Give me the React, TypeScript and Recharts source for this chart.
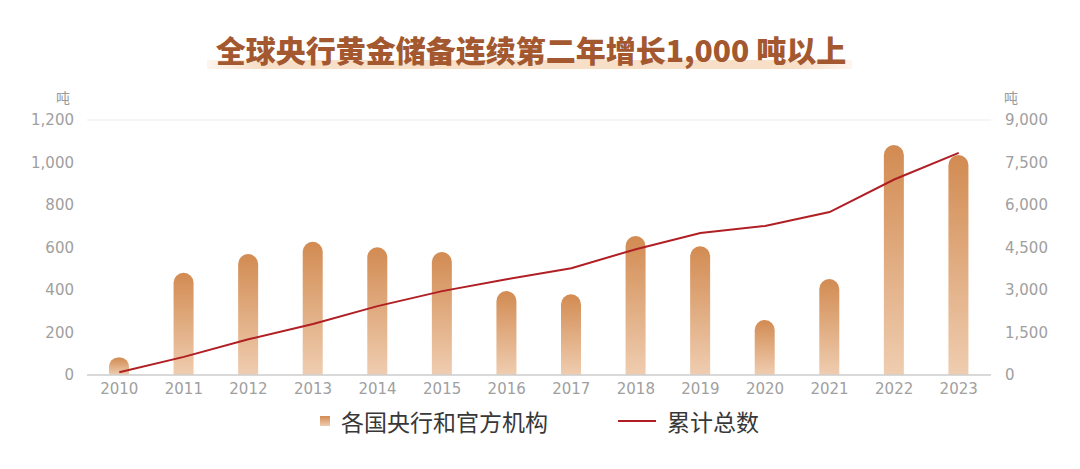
import React from "react";
import {
  ComposedChart,
  Bar,
  Line,
  XAxis,
  YAxis,
  CartesianGrid,
} from "recharts";

const years = ["2010", "2011", "2012", "2013", "2014", "2015", "2016", "2017", "2018", "2019", "2020", "2021", "2022", "2023"];
const annualBuying = [82, 481, 569, 627, 601, 579, 395, 380, 654, 606, 259, 452, 1082, 1035];
const cumulative = [100, 640, 1260, 1800, 2430, 2960, 3380, 3770, 4440, 5010, 5260, 5750, 6900, 7840];
const leftTicks = [0, 200, 400, 600, 800, 1000, 1200];
const rightTicks = [0, 1500, 3000, 4500, 6000, 7500, 9000];

const TITLE = "全球央行黄金储备连续第二年增长1,000 吨以上";
const BAR_NAME = "各国央行和官方机构";
const LINE_NAME = "累计总数";
const UNIT = "吨";

const data = years.map((y, i) => ({ year: y, annual: annualBuying[i], total: cumulative[i] }));

const fmt = (v: number) => v.toLocaleString("en-US");
const tickStyle = { fontSize: 15, fill: "#a0a0a0", fontFamily: "'DejaVu Sans', sans-serif" };
const cjk = "'Noto Sans CJK SC', 'Noto Sans', sans-serif";

export default function App() {
  return (
    <div style={{ position: "relative", width: 1080, height: 469, background: "#fff", overflow: "hidden" }}>
      <style>{"body{margin:0}"}</style>
      {/* title with highlight bar */}
      <div
        style={{
          position: "absolute",
          left: 207,
          top: 60,
          width: 645,
          height: 9,
          background: "linear-gradient(90deg, rgba(248,224,202,0.3), #f8dfc8 8%, #f8dfc8 92%, rgba(248,224,202,0.3))",
        }}
      />
      <div
        style={{
          position: "absolute",
          left: 0,
          top: 29,
          width: 1062,
          textAlign: "center",
          fontFamily: cjk,
          fontWeight: 900,
          fontSize: 30,
          lineHeight: "40px",
          color: "#a3582f",
        }}
      >
        {TITLE}
      </div>
      <div style={{ position: "absolute", left: 56, top: 87, fontFamily: cjk, fontSize: 14, color: "#9a9a9a" }}>{UNIT}</div>
      <div style={{ position: "absolute", left: 1004, top: 87, fontFamily: cjk, fontSize: 14, color: "#9a9a9a" }}>{UNIT}</div>

      <div style={{ position: "absolute", left: 0, top: 0 }}>
        <ComposedChart width={1080} height={469} data={data} margin={{ top: 120, right: 0, left: 0, bottom: 64 }}>
          <defs>
            <linearGradient id="goldBar" x1="0" y1="0" x2="0" y2="1">
              <stop offset="0%" stopColor="#d28b52" />
              <stop offset="100%" stopColor="#efcdb0" />
            </linearGradient>
          </defs>
          <CartesianGrid stroke="#ebebeb" vertical={false} />
          <XAxis
            dataKey="year"
            tick={tickStyle}
            tickLine={false}
            axisLine={{ stroke: "#cfcfcf", strokeWidth: 1.5 }}
            height={30}
            tickMargin={2}
          />
          <YAxis
            yAxisId="left"
            domain={[0, 1200]}
            ticks={leftTicks}
            tickFormatter={fmt}
            tick={tickStyle}
            axisLine={false}
            tickLine={false}
            width={87}
            tickMargin={7}
          />
          <YAxis
            yAxisId="right"
            orientation="right"
            domain={[0, 9000]}
            ticks={rightTicks}
            tickFormatter={fmt}
            tick={{ ...tickStyle, textAnchor: "start" }}
            axisLine={false}
            tickLine={false}
            width={89}
            tickMargin={8}
          />
          <Bar
            yAxisId="left"
            dataKey="annual"
            name={BAR_NAME}
            barSize={20}
            radius={[10, 10, 0, 0]}
            fill="url(#goldBar)"
            isAnimationActive={false}
          />
          <Line
            yAxisId="right"
            type="linear"
            dataKey="total"
            name={LINE_NAME}
            stroke="#b01f24"
            strokeWidth={2}
            dot={false}
            activeDot={false}
            isAnimationActive={false}
          />
        </ComposedChart>
      </div>

      {/* legend */}
      <div style={{ position: "absolute", left: 320, top: 416, width: 10, height: 10, background: "linear-gradient(180deg, #d28b52, #efcdb0)" }} />
      <div style={{ position: "absolute", left: 341, top: 405, fontFamily: cjk, fontSize: 23, lineHeight: "32px", color: "#383838" }}>{BAR_NAME}</div>
      <div style={{ position: "absolute", left: 618, top: 420, width: 38, height: 2, background: "#b01f24" }} />
      <div style={{ position: "absolute", left: 667, top: 405, fontFamily: cjk, fontSize: 23, lineHeight: "32px", color: "#383838" }}>{LINE_NAME}</div>
    </div>
  );
}
